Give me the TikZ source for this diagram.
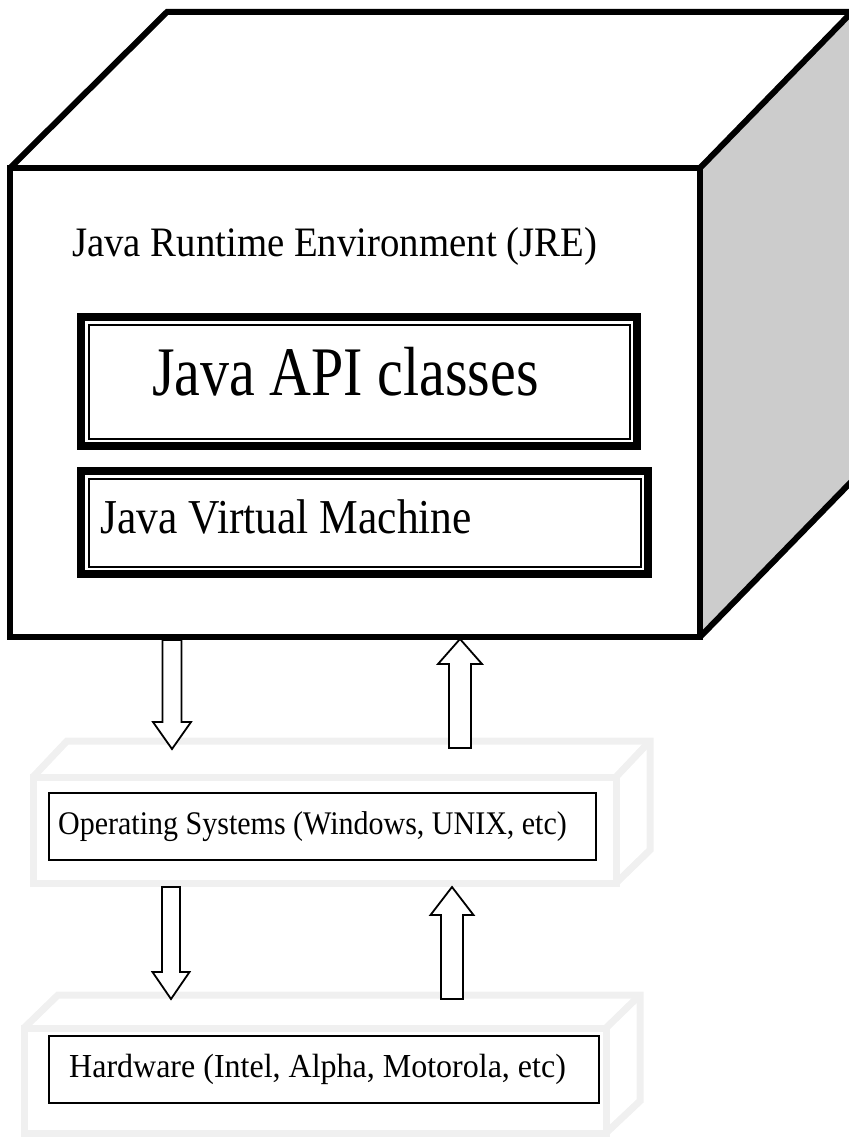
\documentclass[tikz,border=0pt]{standalone}
\usepackage{fontspec}
\setmainfont{Liberation Serif}
\usetikzlibrary{calc}

\begin{document}
\begin{tikzpicture}[
x=1pt, y=-1pt,
cube/.style={line width=6pt},
layer/.style={draw=black!6, line width=7pt},
frame/.style={
	draw, rectangle, line width=8pt,
	anchor=north west, inner sep=0pt
},
inframe/.style={line width=2pt},
plainbox/.style={
	draw, rectangle, line width=1.6pt,
	anchor=north west, inner sep=0pt
},
label/.style={anchor=base west, inner sep=0pt},
hollow/.style={draw, fill=white, line width=1.8pt}
]
\useasboundingbox (0,0) rectangle (848,1139);

% JRE cube
\fill[black!20] (700,168) -- (852,12) -- (852,481) -- (700,637) -- cycle;
\draw[cube, fill=white] (10,168) rectangle (700,637);
\draw[cube] (10,168) -- (167,12) -- (860,12);
\draw[cube] (700,168) -- (852,12);
\draw[cube] (700,637) -- (852,481);
\node[label, font=\fontsize{38.8}{40}\selectfont] (jre) at (72,257)
	{\scalebox{1}[1.08]{Java Runtime Environment (JRE)}};

\node[frame, minimum width=556pt, minimum height=129pt] (api) at (77,313) {};
\draw[inframe] ($(api.north west)+(11.5,11.5)$) rectangle ($(api.south east)+(-11.5,-11.5)$);
\node[label, font=\fontsize{58}{60}\selectfont] (apitext) at (152,395)
	{\scalebox{1}[1.2]{Java API classes}};

\node[frame, minimum width=567pt, minimum height=103pt] (jvm) at (77,467) {};
\draw[inframe] ($(jvm.north west)+(11.5,11.5)$) rectangle ($(jvm.south east)+(-11.5,-11.5)$);
\node[label, font=\fontsize{43.5}{45}\selectfont] (jvmtext) at (100,533)
	{\scalebox{1}[1.12]{Java Virtual Machine}};

% operating system layer
\draw[layer] (33,777) rectangle (616,883);
\draw[layer] (33,777) -- (67,741) -- (650,741) -- (650,850) -- (616,883);
\draw[layer] (616,777) -- (650,741);
\node[plainbox, minimum width=547pt, minimum height=67pt] (os) at (48,792) {};
\node[label, font=\fontsize{30}{32}\selectfont] (ostext) at (58,834)
	{\scalebox{1}[1.1]{Operating Systems (Windows, UNIX, etc)}};

% hardware layer
\draw[layer] (24,1028) rectangle (606,1133);
\draw[layer] (24,1028) -- (58,995) -- (640,995) -- (640,1101) -- (606,1133);
\draw[layer] (606,1028) -- (640,995);
\node[plainbox, minimum width=550pt, minimum height=67pt] (hw) at (48,1035) {};
\node[label, font=\fontsize{32}{34}\selectfont] (hwtext) at (69,1077)
	{\scalebox{1}[1.05]{Hardware (Intel, Alpha, Motorola, etc)}};

% block arrows: centre/tail/head base/tip/shaft/head half widths
\foreach \c/\t/\b/\p/\s/\h in {172/640/722/749/9.5/19, 460/748/664/639/11/22,
	171/887/972/999/9/18.5, 452/999/915/887/11/21.5}
{
	\draw[hollow] (\c-\s,\t) -- (\c-\s,\b) -- (\c-\h,\b) -- (\c,\p)
		-- (\c+\h,\b) -- (\c+\s,\b) -- (\c+\s,\t) -- cycle;
}
\end{tikzpicture}
\end{document}
